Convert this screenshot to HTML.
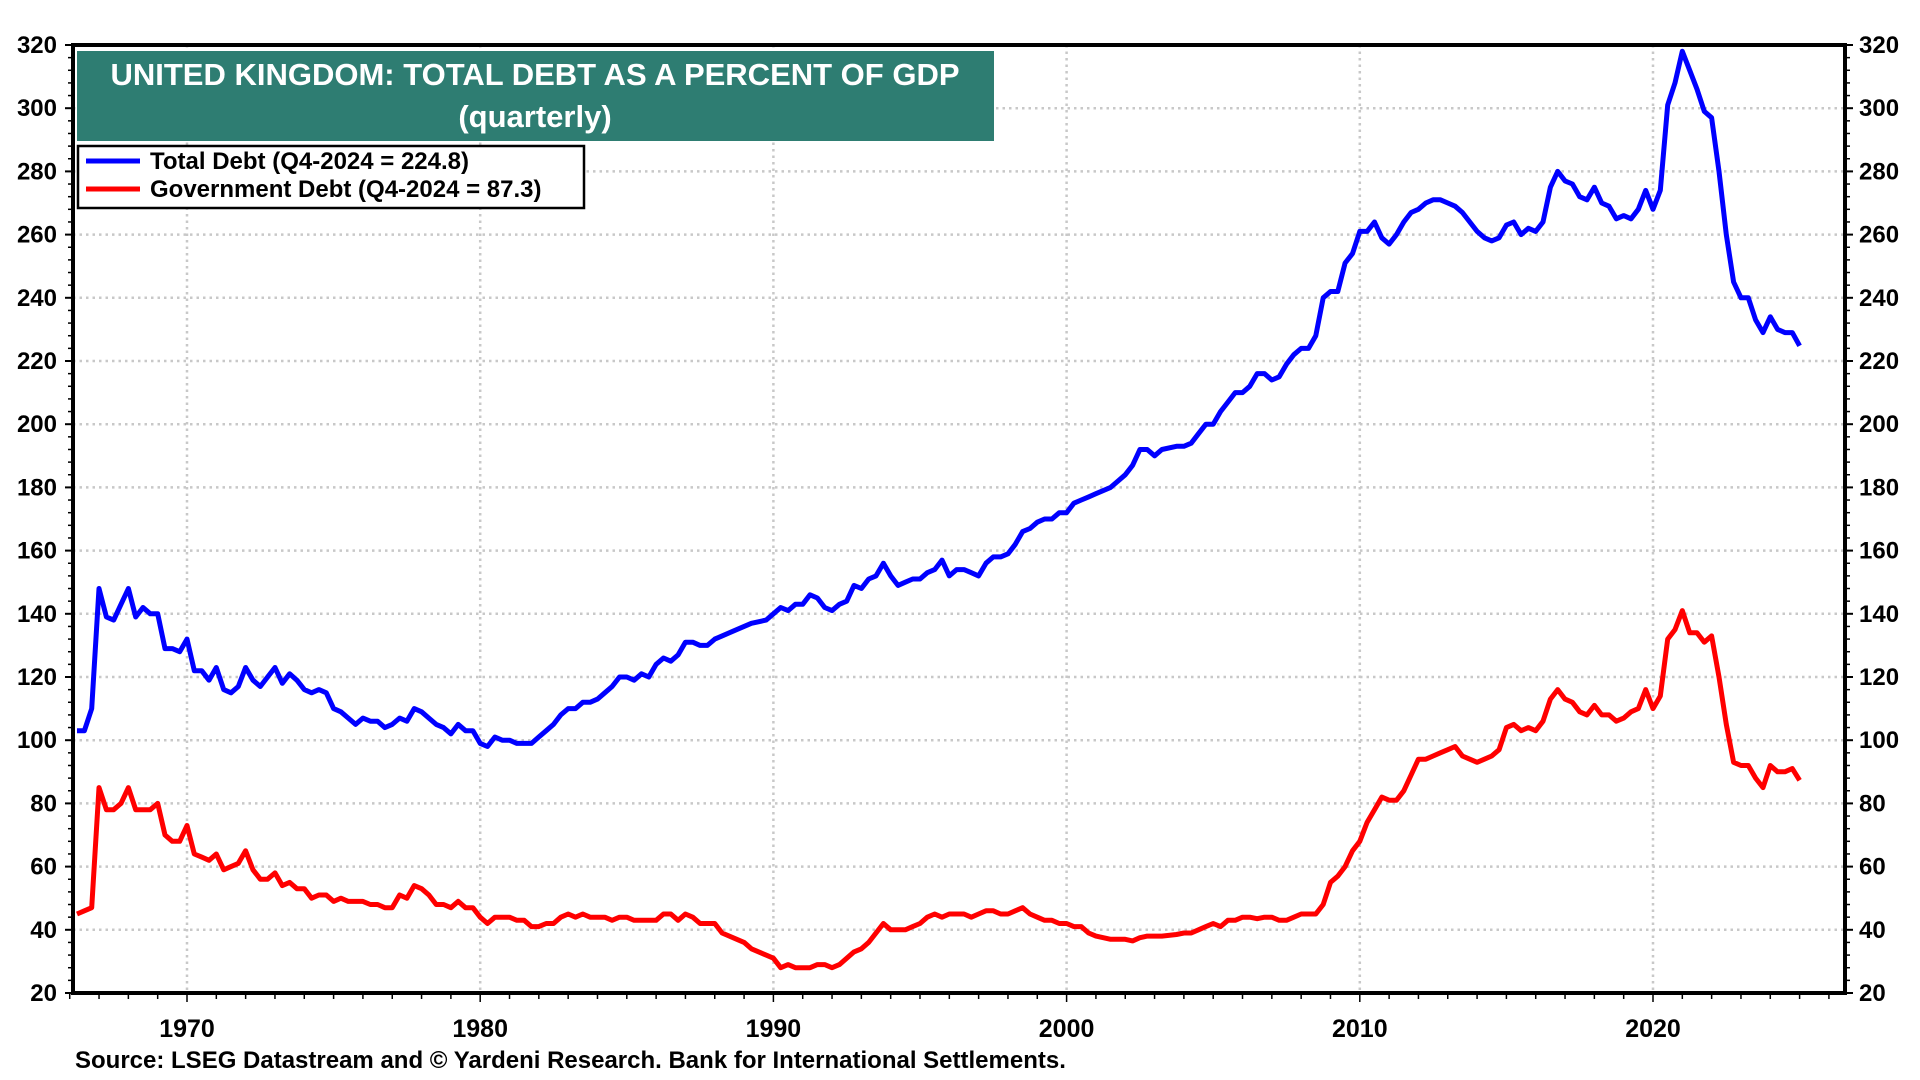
<!DOCTYPE html>
<html><head><meta charset="utf-8">
<style>
html,body{margin:0;padding:0;background:#fff;}
svg{display:block;font-family:"Liberation Sans",Arial,sans-serif;font-weight:bold;}
</style></head>
<body>
<svg id="chart" width="1920" height="1080" viewBox="0 0 1920 1080" xmlns="http://www.w3.org/2000/svg">
  <g id="grid"></g>
  <g id="series"></g>
  <g id="axes"></g>
  <rect x="77" y="51" width="917" height="90" fill="#2e7d72"/>
  <text x="535" y="85" font-size="31" fill="#fff" text-anchor="middle">UNITED KINGDOM: TOTAL DEBT AS A PERCENT OF GDP</text>
  <text x="535" y="127" font-size="31" fill="#fff" text-anchor="middle">(quarterly)</text>
  <g>
    <rect x="78" y="146" width="506" height="62" fill="#fff" stroke="#000" stroke-width="2.5"/>
    <line x1="86" y1="161" x2="140" y2="161" stroke="#0000ff" stroke-width="5"/>
    <text x="150" y="169" font-size="24">Total Debt (Q4-2024 = 224.8)</text>
    <line x1="86" y1="189" x2="140" y2="189" stroke="#ff0000" stroke-width="5"/>
    <text x="150" y="197" font-size="24">Government Debt (Q4-2024 = 87.3)</text>
  </g>
  <text x="75" y="1068" font-size="24">Source: LSEG Datastream and © Yardeni Research. Bank for International Settlements.</text>
</svg>
<script>
const yTicks = [20,40,60,80,100,120,140,160,180,200,220,240,260,280,300,320];
const xTickYears = [1970,1980,1990,2000,2010,2020];
const totalDates = [1966,1966.25,1966.5,1966.75,1967,1967.25,1967.5,1967.75,1968,1968.25,1968.5,1968.75,1969,1969.25,1969.5,1969.75,1970,1970.25,1970.5,1970.75,1971,1971.25,1971.5,1971.75,1972,1972.25,1972.5,1972.75,1973,1973.25,1973.5,1973.75,1974,1974.25,1974.5,1974.75,1975,1975.25,1975.5,1975.75,1976,1976.25,1976.5,1976.75,1977,1977.25,1977.5,1977.75,1978,1978.25,1978.5,1978.75,1979,1979.25,1979.5,1979.75,1980,1980.25,1980.5,1980.75,1981,1981.25,1981.5,1981.75,1982,1982.25,1982.5,1982.75,1983,1983.25,1983.5,1983.75,1984,1984.25,1984.5,1984.75,1985,1985.25,1985.5,1985.75,1986,1986.25,1986.5,1986.75,1987,1987.25,1987.5,1987.75,1988,1988.5,1988.75,1989,1989.5,1989.75,1990,1990.25,1990.5,1990.75,1991,1991.25,1991.5,1991.75,1992,1992.25,1992.5,1992.75,1993,1993.25,1993.5,1993.75,1994,1994.25,1994.5,1994.75,1995,1995.25,1995.5,1995.75,1996,1996.25,1996.5,1996.75,1997,1997.25,1997.5,1997.75,1998,1998.25,1998.5,1998.75,1999,1999.25,1999.5,1999.75,2000,2000.25,2000.5,2000.75,2001,2001.25,2001.5,2001.75,2002,2002.25,2002.5,2002.75,2003,2003.5,2003.75,2004,2004.25,2004.5,2004.75,2005,2005.25,2005.5,2005.75,2006,2006.25,2006.5,2006.75,2007,2007.25,2007.5,2007.75,2008,2008.25,2008.5,2008.75,2009,2009.25,2009.5,2009.75,2010,2010.25,2010.5,2010.75,2011,2011.25,2011.5,2011.75,2012,2012.25,2012.5,2012.75,2013,2013.25,2013.5,2013.75,2014,2014.25,2014.5,2014.75,2015,2015.25,2015.5,2015.75,2016,2016.25,2016.5,2016.75,2017,2017.25,2017.5,2017.75,2018,2018.25,2018.5,2018.75,2019,2019.25,2019.5,2019.75,2020,2020.25,2020.5,2020.75,2021,2021.25,2021.5,2021.75,2022,2022.25,2022.5,2022.75,2023,2023.25,2023.5,2023.75,2024,2024.25,2024.5,2024.75];
const totalDebt = [103,103,110,148,139,138,143,148,139,142,140,140,129,129,128,132,122,122,119,123,116,115,117,123,119,117,120,123,118,121,119,116,115,116,115,110,109,107,105,107,106,106,104,105,107,106,110,109,107,105,104,102,105,103,103,99,98,101,100,100,99,99,99,101,103,105,108,110,110,112,112,113,115,117,120,120,119,121,120,124,126,125,127,131,131,130,130,132,133,135,136,137,138,140,142,141,143,143,146,145,142,141,143,144,149,148,151,152,156,152,149,150,151,151,153,154,157,152,154,154,153,152,156,158,158,159,162,166,167,169,170,170,172,172,175,176,177,178,179,180,182,184,187,192,192,190,192,193,193,194,197,200,200,204,207,210,210,212,216,216,214,215,219,222,224,224,228,240,242,242,251,254,261,261,264,259,257,260,264,267,268,270,271,271,270,269,267,264,261,259,258,259,263,264,260,262,261,264,275,280,277,276,272,271,275,270,269,265,266,265,268,274,268,274,301,308,318,312,306,299,297,280,260,245,240,240,233,229,234,230,229,229,224.8];
const govDates = totalDates.slice(0,144).concat([2002.5,2002.75,2003,2003.5,2003.75,2004,2004.25,2004.5,2004.75,2005,2005.25,2005.5,2005.75,2006,2006.25,2006.5,2006.75,2007,2007.25,2007.5,2007.75,2008,2008.25,2008.5,2008.75,2009,2009.25,2009.5,2009.75,2010,2010.25,2010.5,2010.75,2011,2011.25,2011.5,2011.75,2012,2012.25,2012.5,2012.75,2013,2013.25,2013.5,2013.75,2014,2014.25,2014.5,2014.75,2015,2015.25,2015.5,2015.75,2016,2016.25,2016.5,2016.75,2017,2017.25,2017.5,2017.75,2018,2018.25,2018.5,2018.75,2019,2019.25,2019.5,2019.75,2020,2020.25,2020.5,2020.75,2021,2021.25,2021.5,2021.75,2022,2022.25,2022.5,2022.75,2023,2023.25,2023.5,2023.75,2024,2024.25,2024.5,2024.75]);
const govDebt = [45,46,47,85,78,78,80,85,78,78,78,80,70,68,68,73,64,63,62,64,59,60,61,65,59,56,56,58,54,55,53,53,50,51,51,49,50,49,49,49,48,48,47,47,51,50,54,53,51,48,48,47,49,47,47,44,42,44,44,44,43,43,41,41,42,42,44,45,44,45,44,44,44,43,44,44,43,43,43,43,45,45,43,45,44,42,42,42,39,37,36,34,32,31,28,29,28,28,28,29,29,28,29,31,33,34,36,39,42,40,40,40,41,42,44,45,44,45,45,45,44,45,46,46,45,45,46,47,45,44,43,43,42,42,41,41,39,38,37.5,37,37,37,36.5,37.5,38,38,38,38.5,39,39,40,41,42,41,43,43,44,44,43.5,44,44,43,43,44,45,45,45,48,55,57,60,65,68,74,78,82,81,81,84,89,94,94,95,96,97,98,95,94,93,94,95,97,104,105,103,104,103,106,113,116,113,112,109,108,111,108,108,106,107,109,110,116,110,114,132,135,141,134,134,131,133,120,105,93,92,92,88,85,92,90,90,91,87.3];

const NS="http://www.w3.org/2000/svg";
const L=73,R=1845,T=45,B=993;
const X0=1970,XPX0=187,PXYR=29.32;
function xs(d){return XPX0+(d-X0)*PXYR;}
function ys(v){return B-(v-20)*(B-T)/300;}
function mk(tag,attrs,parent){const e=document.createElementNS(NS,tag);for(const k in attrs)e.setAttribute(k,attrs[k]);parent.appendChild(e);return e;}
const grid=document.getElementById('grid'),axes=document.getElementById('axes'),ser=document.getElementById('series');

yTicks.forEach(v=>{
  if(v>20&&v<320){
    const g=mk('line',{x1:L,x2:R,y1:ys(v),y2:ys(v),stroke:'#c8c8c8','stroke-width':2.5,'stroke-dasharray':'2.5 4'},grid);
    
    
  }
  const tl=mk('text',{x:L-16,y:ys(v)+8,'font-size':24,'text-anchor':'end'},axes);
  tl.textContent=v;
  
  
  const tr=mk('text',{x:R+14,y:ys(v)+8,'font-size':24,'text-anchor':'start'},axes);
  tr.textContent=v;
  
  
  mk('line',{x1:L-8,x2:L,y1:ys(v),y2:ys(v),stroke:'#000','stroke-width':2},axes);
  mk('line',{x1:R,x2:R+8,y1:ys(v),y2:ys(v),stroke:'#000','stroke-width':2},axes);
});
for(let v=24;v<320;v+=4){ if(v%20===0)continue;
  mk('line',{x1:L-5,x2:L,y1:ys(v),y2:ys(v),stroke:'#000','stroke-width':1.5},axes);
  mk('line',{x1:R,x2:R+5,y1:ys(v),y2:ys(v),stroke:'#000','stroke-width':1.5},axes);
}
xTickYears.forEach(yr=>{
  const g=mk('line',{x1:xs(yr),x2:xs(yr),y1:T,y2:B,stroke:'#c8c8c8','stroke-width':2.5,'stroke-dasharray':'2.5 4'},grid);
  
  
  const t=mk('text',{x:xs(yr),y:B+44,'font-size':25,'text-anchor':'middle'},axes);
  t.textContent=yr;
  
  
});
for(let yr=1966;yr<=2026;yr++){
  mk('line',{x1:xs(yr),x2:xs(yr),y1:B,y2:B+(yr%10===0?9:6),stroke:'#000','stroke-width':1.5},axes);
}
const frame=mk('rect',{x:L,y:T,width:R-L,height:B-T,fill:'none',stroke:'#000','stroke-width':4},axes);



function line(dates,vals,color,name){
  const pts=dates.map((d,i)=>xs(d+0.25).toFixed(1)+','+ys(vals[i]).toFixed(1)).join(' ');
  const p=mk('polyline',{points:pts,fill:'none',stroke:color,'stroke-width':5,'stroke-linejoin':'round'},ser);
  
  
}
line(govDates,govDebt,'#ff0000','government-debt-line');
line(totalDates,totalDebt,'#0000ff','total-debt-line');
</script>
</body></html>
